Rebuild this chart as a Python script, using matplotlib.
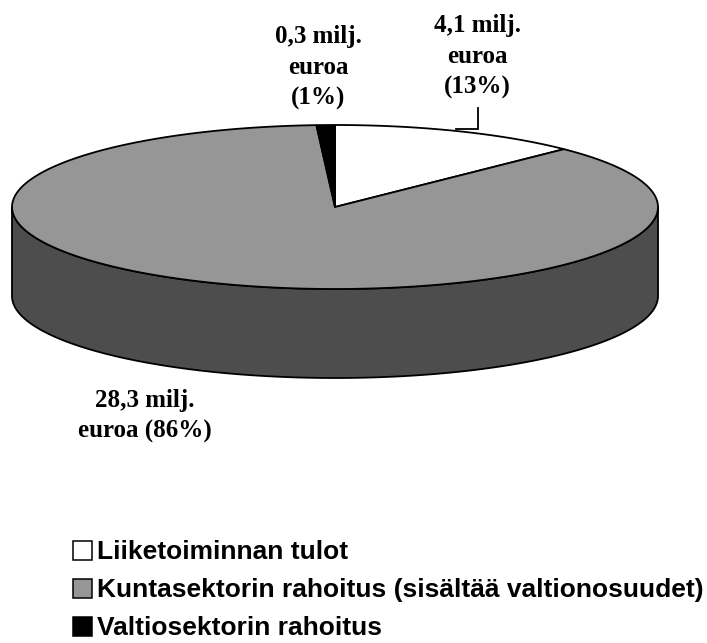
import numpy as np
import matplotlib
matplotlib.use("Agg")
import matplotlib.pyplot as plt
from matplotlib.patches import Polygon, Rectangle

# ---------- data ----------
categories = ["Liiketoiminnan tulot",
              "Kuntasektorin rahoitus (sisältää valtionosuudet)",
              "Valtiosektorin rahoitus"]
values = [4.1, 28.3, 0.3]          # milj. euroa
labels = ["4,1 milj.\neuroa\n(13%)",
          "28,3 milj.\neuroa (86%)",
          "0,3 milj.\neuroa\n(1%)"]

top_colors = ["#ffffff", "#969696", "#000000"]
side_colors = ["#bfbfbf", "#4d4d4d", "#000000"]

# ---------- geometry (pixel space) ----------
W, H = 707, 643
cx, cy = 335, 207        # centre of top face
ra, rb = 323, 82         # ellipse semi-axes
depth = 89               # pie thickness

label_pos = [(477, 32), (145, 407), (318, 43)]   # centre x, first baseline
line_step = 31

fig = plt.figure(figsize=(W / 100, H / 100), dpi=100)
ax = fig.add_axes([0, 0, 1, 1])
ax.set_xlim(0, W)
ax.set_ylim(H, 0)
ax.axis("off")


def arc(t0, t1, dy=0.0, n=200):
    # angles in degrees, clockwise from 12 o'clock
    t = np.radians(np.linspace(t0, t1, n))
    return np.column_stack([cx + ra * np.sin(t), cy - rb * np.cos(t) + dy])


fracs = np.array(values) / sum(values)
bounds = np.concatenate([[0], np.cumsum(fracs) * 360])

# side wall: only front half (90..270 deg) is visible
for i in range(len(values)):
    s0, s1 = max(bounds[i], 90), min(bounds[i + 1], 270)
    if s1 <= s0:
        continue
    pts = np.vstack([arc(s0, s1), arc(s1, s0, depth)])
    ax.add_patch(Polygon(pts, closed=True, facecolor=side_colors[i],
                         edgecolor="black", linewidth=1.3, joinstyle="round"))

# top face wedges
for i in range(len(values)):
    pts = np.vstack([[cx, cy], arc(bounds[i], bounds[i + 1])])
    ax.add_patch(Polygon(pts, closed=True, facecolor=top_colors[i],
                         edgecolor="black", linewidth=1.3, joinstyle="round"))

# data labels
for (lx, ly), txt in zip(label_pos, labels):
    for k, line in enumerate(txt.split("\n")):
        ax.text(lx, ly + k * line_step, line, ha="center", va="baseline",
                fontsize=18, fontweight="bold", family="Liberation Serif")

# leader line for the small white slice label
ax.plot([478, 478, 456], [108, 129, 129], color="black", linewidth=1.3,
        solid_joinstyle="miter")

# ---------- legend ----------
leg_x, leg_y0, leg_step, sq = 73, 550, 38, 19
for i, name in enumerate(categories):
    yc = leg_y0 + i * leg_step
    ax.add_patch(Rectangle((leg_x, yc - sq / 2), sq, sq, facecolor=top_colors[i],
                           edgecolor="black", linewidth=1.1))
    ax.text(leg_x + 24, yc + 9.0, name, ha="left", va="baseline",
            fontsize=19, fontweight="bold", family="Liberation Sans")

fig.savefig("out.png", dpi=100)
